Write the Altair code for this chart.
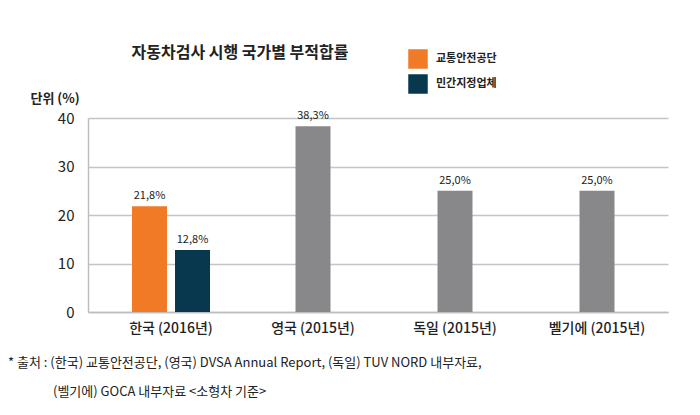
import altair as alt
import pandas as pd

countries = ["한국 (2016년)", "영국 (2015년)", "독일 (2015년)", "벨기에 (2015년)"]

# Korea: two series
kr_series = ["교통안전공단", "민간지정업체"]
kr_values = [21.8, 12.8]
kr_labels = ["21,8%", "12,8%"]

# Other countries: single value
other_countries = ["영국 (2015년)", "독일 (2015년)", "벨기에 (2015년)"]
other_values = [38.3, 25.0, 25.0]
other_labels = ["38,3%", "25,0%", "25,0%"]

colors = ["#F07A26", "#08384D"]
gray = "#88888A"

title_text = "자동차검사 시행 국가별 부적합률"
footnote1 = "* 출처 : (한국) 교통안전공단, (영국) DVSA Annual Report, (독일) TUV NORD 내부자료,"
footnote2 = "(벨기에) GOCA 내부자료 <소형차 기준>"

kr = pd.DataFrame({"country": [countries[0]] * 2, "series": kr_series,
                   "value": kr_values, "label": kr_labels})
ot = pd.DataFrame({"country": other_countries, "value": other_values,
                   "label": other_labels})

FONT = "Noto Sans CJK KR"

xscale = alt.Scale(domain=countries, paddingInner=0, paddingOuter=0.0423, align=1)
yscale = alt.Scale(domain=[0, 40])

xaxis = alt.Axis(title=None, labelAngle=0, ticks=False, labelPadding=9,
                 labelFontSize=14, labelFont=FONT, labelFontWeight=500,
                 labelColor="#222222", domainColor="#BDBDBD", domainWidth=1.5, grid=False)
yaxis = alt.Axis(title="단위 (%)", titleAngle=0, titleX=-58, titleY=-20,
                 titleAlign="left", titleBaseline="middle", titleFont=FONT,
                 titleFontSize=13, titleFontWeight="bold", titleColor="#222222",
                 values=[0, 10, 20, 30, 40], ticks=False, labelPadding=14,
                 labelFontSize=15, labelFont=FONT, labelColor="#222222",
                 gridColor="#C4C4C4", gridWidth=1.5,
                 domainColor="#BDBDBD", domainWidth=1.5)


def xenc():
    return alt.X("country:N", scale=xscale, sort=countries, axis=xaxis)


def yenc():
    return alt.Y("value:Q", scale=yscale, axis=yaxis)


offset_scale = alt.Scale(domain=kr_series, paddingInner=0.186, paddingOuter=0.744)

kr_bars = alt.Chart(kr).mark_bar().encode(
    x=xenc(), y=yenc(),
    xOffset=alt.XOffset("series:N", scale=offset_scale, sort=kr_series),
    color=alt.Color("series:N", sort=kr_series,
                    scale=alt.Scale(domain=kr_series, range=colors),
                    legend=alt.Legend(title=None, orient="none", legendX=320, legendY=-69,
                                      symbolType="square", symbolSize=380,
                                      symbolStrokeWidth=0, labelFont=FONT,
                                      labelFontSize=11, labelFontWeight="bold",
                                      labelColor="#222222", rowPadding=5,
                                      labelOffset=8)),
)
kr_text = alt.Chart(kr).mark_text(baseline="bottom", dy=-5, fontSize=11, font=FONT,
                                  color="#222222").encode(
    x=xenc(), y=yenc(),
    xOffset=alt.XOffset("series:N", scale=offset_scale, sort=kr_series),
    text="label:N",
)
ot_bars = alt.Chart(ot).mark_bar(size=35, color=gray).encode(
    x=xenc(), y=yenc(),
)
ot_text = alt.Chart(ot).mark_text(baseline="bottom", dy=-5, fontSize=11, font=FONT,
                                  color="#222222").encode(
    x=xenc(), y=yenc(),
    text="label:N",
)

title = alt.Chart(pd.DataFrame({"t": [title_text]})).mark_text(
    align="center", baseline="middle", fontSize=16, font=FONT, fontWeight="bold",
    color="#222222").encode(x=alt.value(152), y=alt.value(-65), text="t:N")

fn1 = alt.Chart(pd.DataFrame({"t": [footnote1]})).mark_text(
    align="left", baseline="middle", fontSize=13, font=FONT, fontWeight=400,
    color="#222222").encode(x=alt.value(-80), y=alt.value(245), text="t:N")
fn2 = alt.Chart(pd.DataFrame({"t": [footnote2]})).mark_text(
    align="left", baseline="middle", fontSize=13, font=FONT, fontWeight=400,
    color="#222222").encode(x=alt.value(-35), y=alt.value(274), text="t:N")

chart = alt.layer(kr_bars, ot_bars, kr_text, ot_text, title, fn1, fn2).properties(
    width=580, height=194,
    background="white",
    autosize=alt.AutoSizeParams(type="none"),
    padding={"left": 80, "top": 110, "right": 24, "bottom": 95},
).configure_view(strokeWidth=0, stroke="transparent")

chart.save("out.html", embed_options={"renderer": "svg", "actions": False})
